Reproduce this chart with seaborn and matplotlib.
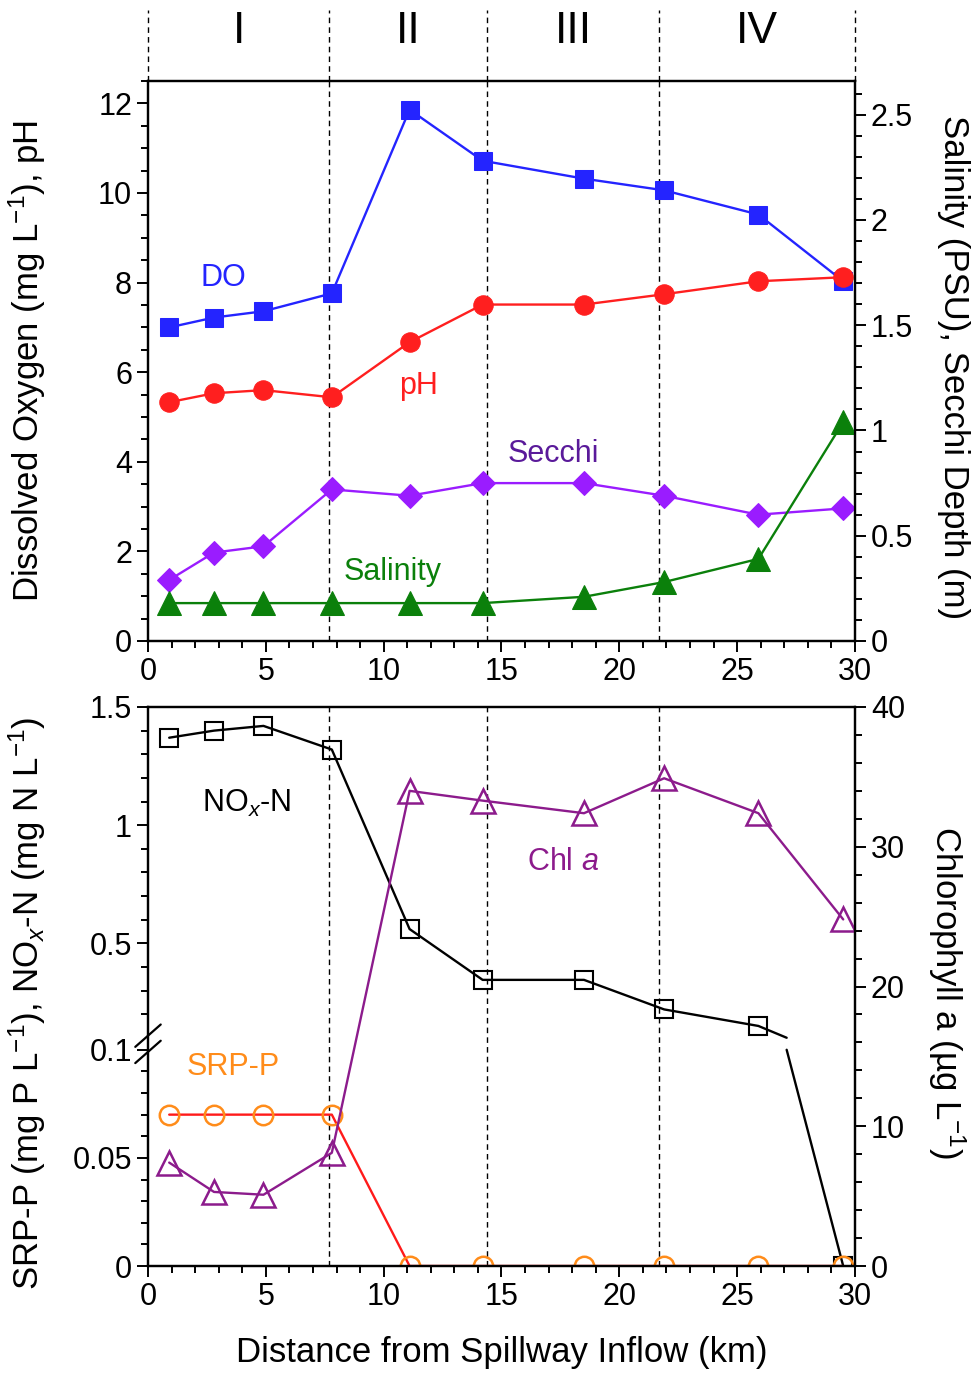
import numpy as np
import matplotlib
matplotlib.use("Agg")
import matplotlib.pyplot as plt
import seaborn as sns

# ── Data ──────────────────────────────────────────────────
dist = [0.9, 2.8, 4.9, 7.8, 11.1, 14.2, 18.5, 21.9, 25.9, 29.5]

do_mg = [7.0, 7.22, 7.36, 7.76, 11.86, 10.72, 10.32, 10.06, 9.52, 8.03]
ph = [5.33, 5.53, 5.6, 5.44, 6.67, 7.51, 7.51, 7.74, 8.03, 8.12]
secchi = [0.29, 0.42, 0.45, 0.72, 0.69, 0.75, 0.75, 0.69, 0.60, 0.63]
salinity = [0.18, 0.18, 0.18, 0.18, 0.18, 0.18, 0.21, 0.28, 0.39, 1.04]

nox = [1.37, 1.40, 1.42, 1.32, 0.56, 0.345, 0.345, 0.22, 0.15, 0.0]
srp = [0.07, 0.07, 0.07, 0.07, 0.0, 0.0, 0.0, 0.0, 0.0, 0.0]
chla = [7.4, 5.3, 5.1, 8.1, 34.0, 33.3, 32.4, 34.9, 32.4, 24.8]

zones = [0, 7.7, 14.4, 21.7, 30]
zone_names = ["I", "II", "III", "IV"]

# ── Style ─────────────────────────────────────────────────
sns.set_theme(style="ticks")
plt.rcParams["font.family"] = ["Liberation Sans", "DejaVu Sans"]
plt.rcParams["mathtext.fontset"] = "custom"
plt.rcParams["mathtext.rm"] = "Liberation Sans"
plt.rcParams["mathtext.it"] = "Liberation Sans:italic"
plt.rcParams["axes.linewidth"] = 1.6
plt.rcParams["axes.edgecolor"] = "black"
plt.rcParams["text.color"] = "black"
plt.rcParams["axes.labelcolor"] = "black"
plt.rcParams["xtick.color"] = "black"
plt.rcParams["ytick.color"] = "black"

FS_TICK = 22
FS_LAB = 25
FS_TXT = 22

C_DO = "#2424ff"
C_PH = "#ff1f1f"
C_SEC = "#9a1cff"
C_SEC_T = "#5a1a9a"
C_SAL = "#0b800b"
C_CHL = "#8c1b8c"
C_SRP = "#ff8c1a"

W, H = 978, 1373
fig = plt.figure(figsize=(W / 100, H / 100), dpi=100)
L, R = 148 / W, 855 / W


def rect(top_px, bot_px):
    return [L, 1 - bot_px / H, R - L, (bot_px - top_px) / H]


ax_h = fig.add_axes(rect(10, 81))
ax1 = fig.add_axes(rect(81, 641))
ax1r = ax1.twinx()
ax2 = fig.add_axes(rect(707, 1266))
ax2r = ax2.twinx()

dash = dict(color="black", lw=1.0, linestyle=(0, (4, 3)), zorder=0)

# ── Header: zone labels ──────────────────────────────────
ax_h.set_xlim(0, 30)
ax_h.set_ylim(0, 1)
ax_h.axis("off")
for z in zones:
    ax_h.axvline(z, clip_on=False, **dash)
mids = (np.array(zones[:-1]) + np.array(zones[1:])) / 2
for m, name in zip(mids, zone_names):
    ax_h.text(m, 0.70, name, ha="center", va="center", fontsize=32)


def style_axis(a):
    a.tick_params(axis="both", which="both", direction="out", labelsize=FS_TICK,
                  width=1.4, color="black", labelcolor="black")
    a.tick_params(which="major", length=8)
    a.tick_params(which="minor", length=5)
    for s in a.spines.values():
        s.set_linewidth(1.6)


# ── Top panel ────────────────────────────────────────────
for z in zones[1:-1]:
    ax1.axvline(z, **dash)

sns.lineplot(x=dist, y=do_mg, ax=ax1, color=C_DO, lw=1.7, marker="s",
             markersize=13, markeredgecolor=C_DO, estimator=None)
sns.lineplot(x=dist, y=ph, ax=ax1, color=C_PH, lw=1.7, marker="o",
             markersize=14, markeredgecolor=C_PH, estimator=None)
sns.lineplot(x=dist, y=secchi, ax=ax1r, color=C_SEC, lw=1.7, marker="D",
             markersize=12, markeredgecolor=C_SEC, estimator=None)
sns.lineplot(x=dist, y=salinity, ax=ax1r, color=C_SAL, lw=1.7, marker="^",
             markersize=17, markeredgecolor=C_SAL, estimator=None)

ax1.set_xlim(0, 30)
ax1.set_ylim(0, 12.5)
ax1r.set_ylim(0, 2.66)
ax1.set_xticks(range(0, 31, 5))
ax1.set_xticks(range(0, 31), minor=True)
ax1.set_yticks(range(0, 13, 2))
ax1.set_yticks(np.arange(0, 12.51, 0.5), minor=True)
ax1r.set_yticks([0, 0.5, 1, 1.5, 2, 2.5])
ax1r.set_yticklabels(["0", "0.5", "1", "1.5", "2", "2.5"])
ax1r.set_yticks(np.arange(0, 2.66, 0.1), minor=True)
for a in (ax1, ax1r):
    style_axis(a)
ax1.tick_params(axis="x", which="both", top=False)

ax1.set_ylabel("Dissolved Oxygen (mg L$^{-1}$), pH", fontsize=FS_LAB)
ax1.yaxis.set_label_coords(-0.142, 0.5)
ax1r.set_ylabel("Salinity (PSU), Secchi Depth (m)", fontsize=FS_LAB,
                rotation=-90, va="center")
ax1r.yaxis.set_label_coords(1.14, 0.49)
ax1.set_xlabel("")

ax1.text(3.2, 8.1, "DO", color=C_DO, fontsize=FS_TXT, ha="center", va="center")
ax1.text(11.5, 5.7, "pH", color=C_PH, fontsize=FS_TXT, ha="center", va="center")
ax1r.text(17.2, 0.89, "Secchi", color=C_SEC_T, fontsize=FS_TXT, ha="center", va="center")
ax1r.text(10.4, 0.33, "Salinity", color=C_SAL, fontsize=FS_TXT, ha="center", va="center")

# ── Bottom panel: broken left axis (0–0.1 stretched) ─────
BRK = 0.1


def fwd(v):
    v = np.asarray(v, dtype=float)
    return np.where(v <= BRK, v * 2160, 228 + (v - BRK) * 236)


def inv(t):
    t = np.asarray(t, dtype=float)
    return np.where(t <= 216, t / 2160, np.where(t < 228, BRK, BRK + (t - 228) / 236))


ax2.set_yscale("function", functions=(fwd, inv))

for z in zones[1:-1]:
    ax2.axvline(z, **dash)

# NOx line is split where it passes the axis break
k = next(i for i in range(1, len(nox)) if nox[i] <= BRK < nox[i - 1])
xc = dist[k - 1] + (dist[k] - dist[k - 1]) * (nox[k - 1] - BRK) / (nox[k - 1] - nox[k])
sns.lineplot(x=dist[:k] + [xc], y=nox[:k] + [BRK + 1e-9], ax=ax2, color="black",
             lw=1.7, sort=False, estimator=None)
sns.lineplot(x=[xc] + dist[k:], y=[BRK] + nox[k:], ax=ax2, color="black",
             lw=1.7, sort=False, estimator=None)
sns.lineplot(x=dist, y=nox, ax=ax2, color="black", linestyle="none", marker="s",
             markersize=13, markerfacecolor="none", markeredgecolor="black",
             markeredgewidth=1.5, estimator=None)

sns.lineplot(x=dist, y=srp, ax=ax2, color="#ff1a1a", lw=1.7, marker="o",
             markersize=14, markerfacecolor="none", markeredgecolor=C_SRP,
             markeredgewidth=1.8, estimator=None)

sns.lineplot(x=dist, y=chla, ax=ax2r, color=C_CHL, lw=1.7, marker="^",
             markersize=17, markerfacecolor="none", markeredgecolor=C_CHL,
             markeredgewidth=1.8, estimator=None)

ax2.set_xlim(0, 30)
ax2.set_ylim(0, 1.5)
ax2r.set_ylim(0, 40)
ax2.set_xticks(range(0, 31, 5))
ax2.set_xticks(range(0, 31), minor=True)
ax2.set_yticks([0, 0.05, 0.1, 0.5, 1, 1.5])
ax2.set_yticklabels(["0", "0.05", "0.1", "0.5", "1", "1.5"])
minor_low = np.round(np.arange(0.01, 0.1, 0.01), 3)
minor_up = np.round(np.arange(0.2, 1.5, 0.1), 3)
ax2.set_yticks(list(minor_low) + [v for v in minor_up if v not in (0.5, 1.0)], minor=True)
ax2r.set_yticks(range(0, 41, 10))
ax2r.set_yticks(range(0, 41, 2), minor=True)
for a in (ax2, ax2r):
    style_axis(a)
ax2.tick_params(axis="x", which="both", top=False)

# break marks on the left spine
for yb in (0.412, 0.383):
    ax2.plot([-0.018, 0.018], [yb - 0.02, yb + 0.02], transform=ax2.transAxes,
             color="black", lw=1.6, clip_on=False, zorder=5)

ax2.set_ylabel("SRP-P (mg P L$^{-1}$), NO$_x$-N (mg N L$^{-1}$)", fontsize=FS_LAB)
ax2.yaxis.set_label_coords(-0.142, 0.47)
ax2r.set_ylabel("Chlorophyll a (µg L$^{-1}$)", fontsize=FS_LAB, rotation=-90, va="center")
ax2r.yaxis.set_label_coords(1.13, 0.49)
ax2.set_xlabel("Distance from Spillway Inflow (km)", fontsize=FS_LAB)
ax2.xaxis.set_label_coords(0.5, -0.125)

ax2.text(4.2, 1.09, "NO$_x$-N", color="black", fontsize=FS_TXT, ha="center", va="center")
ax2r.text(17.6, 28.9, "Chl $\\mathit{a}$", color=C_CHL, fontsize=FS_TXT, ha="center", va="center")
ax2.text(3.6, 0.092, "SRP-P", color=C_SRP, fontsize=FS_TXT, ha="center", va="center")

fig.savefig("out.png", dpi=100)
